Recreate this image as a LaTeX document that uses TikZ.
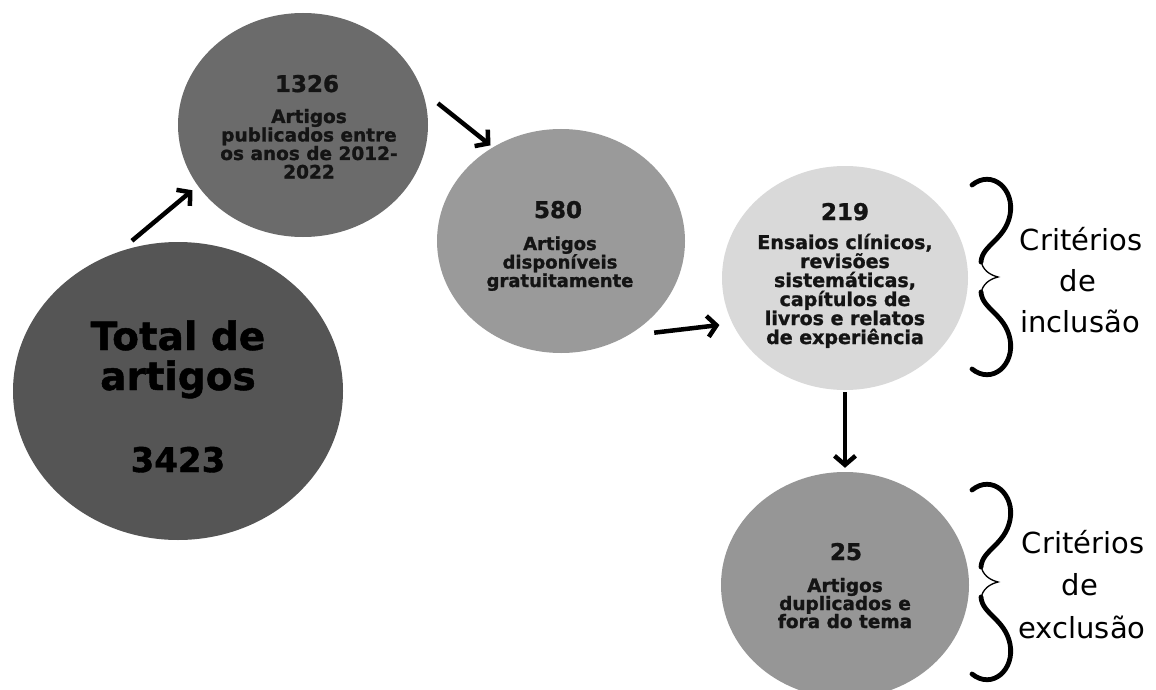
\documentclass[tikz,border=0pt]{standalone}
\usepackage{fontspec}
\setmainfont{DejaVu Sans}[BoldFeatures={FakeBold=1.2}]
\usetikzlibrary{arrows.meta,shapes.geometric}
\definecolor{cbig}{HTML}{555555}
\definecolor{cone}{HTML}{6B6B6B}
\definecolor{ctwo}{HTML}{9A9A9A}
\definecolor{cthree}{HTML}{D9D9D9}
\definecolor{cfour}{HTML}{969696}
\definecolor{ink}{HTML}{141414}
\begin{document}
\begin{tikzpicture}[x=1pt,y=-1pt,
  blob/.style={ellipse, inner sep=0pt, draw=none},
  arr/.style={line width=4.5pt, draw=black, -{Straight Barb[length=9pt,width=21pt]}},
  num/.style={anchor=base, text=ink, font=\bfseries\fontsize{23}{23}\selectfont},
  body/.style={anchor=base, text=ink, font=\bfseries\fontsize{18.5}{18.5}\selectfont},
  crit/.style={anchor=base, text=black, font=\fontsize{29}{29}\selectfont},
  thickbr/.style={line width=4.8pt, line cap=round, draw=black},
  thinbr/.style={line width=1.3pt, draw=black},
]
\useasboundingbox (0,0) rectangle (1156,690);
\fill[white] (0,0) rectangle (1156,690);

% circles
\node[blob, fill=cbig,   minimum width=330pt, minimum height=298pt] (n0) at (178,391) {};
\node[blob, fill=cone,   minimum width=250pt, minimum height=224pt] (n1) at (303,125) {};
\node[blob, fill=ctwo,   minimum width=248pt, minimum height=224pt] (n2) at (561,241) {};
\node[blob, fill=cthree, minimum width=246pt, minimum height=224pt] (n3) at (845,278) {};
\node[blob, fill=cfour,  minimum width=248pt, minimum height=226pt] (n4) at (845,585) {};

% big circle text
\node[anchor=base, text=black, font=\bfseries\fontsize{39}{39}\selectfont] (t0a) at (178,350) {Total de};
\node[anchor=base, text=black, font=\bfseries\fontsize{39}{39}\selectfont] (t0b) at (178,390) {artigos};
\node[anchor=base, text=black, font=\bfseries\fontsize{34}{34}\selectfont] (t0c) at (178,472) {3423};

% 1326
\node[num] (t1n) at (307,92) {1326};
\node[body] (t1a) at (309,123) {Artigos};
\node[body] (t1b) at (309,141.5) {publicados entre};
\node[body] (t1c) at (309,160) {os anos de 2012-};
\node[body] (t1d) at (309,178.5) {2022};

% 580
\node[num] (t2n) at (558,218) {580};
\node[body, font=\bfseries\fontsize{18}{18}\selectfont] (t2a) at (560,250) {Artigos};
\node[body, font=\bfseries\fontsize{18}{18}\selectfont] (t2b) at (560,268.5) {disponíveis};
\node[body, font=\bfseries\fontsize{18}{18}\selectfont] (t2c) at (560,287) {gratuitamente};

% 219
\node[num] (t3n) at (845,220) {219};
\foreach \t [count=\i] in {{Ensaios clínicos,},{revisões},{sistemáticas,},{capítulos de},{livros e relatos},{de experiência}}
  \node[body, font=\bfseries\fontsize{19}{19}\selectfont] (t3-\i) at (845,{249+19*(\i-1)}) {\t};

% 25
\node[num] (t4n) at (846,560) {25};
\node[body] (t4a) at (845,592) {Artigos};
\node[body] (t4b) at (845,610) {duplicados e};
\node[body] (t4c) at (845,628) {fora do tema};

% criteria labels
\node[crit] (c1a) at (1081,250) {Critérios};
\node[crit] (c1b) at (1078,291) {de};
\node[crit] (c1c) at (1080,332) {inclusão};
\node[crit] (c2a) at (1083,553) {Critérios};
\node[crit] (c2b) at (1080,595) {de};
\node[crit] (c2c) at (1082,638) {exclusão};

% braces
\foreach \by [count=\k] in {277,582}{
  \begin{scope}[shift={(998,\by)}]
    \draw[thickbr] (-26,-92) .. controls (-6,-108) and (17,-88) .. (12,-62)
                             .. controls (7,-37) and (-16,-32) .. (-17,-15);
    \draw[thinbr] (-17,-17) .. controls (-16,-7) and (-8,-2) .. (0,0)
                            .. controls (-8,2) and (-16,7) .. (-17,17);
    \draw[thickbr] (-17,15) .. controls (-16,32) and (7,37) .. (12,62)
                            .. controls (17,88) and (-6,108) .. (-26,92);
  \end{scope}
}

% arrows
\draw[arr, shorten <=17pt, shorten >=7pt] (n0.113.8) -- (n1.210.5);
\draw[arr, shorten <=20pt, shorten >=3pt] (n1.16) -- (n2.126.8);
\draw[arr, shorten <=27pt, shorten >=13pt] (n2.-55.6) -- (n3.202.5);
\draw[arr, shorten <=2pt, shorten >=4pt] (n3.south) -- (n4.north);
\end{tikzpicture}
\end{document}
